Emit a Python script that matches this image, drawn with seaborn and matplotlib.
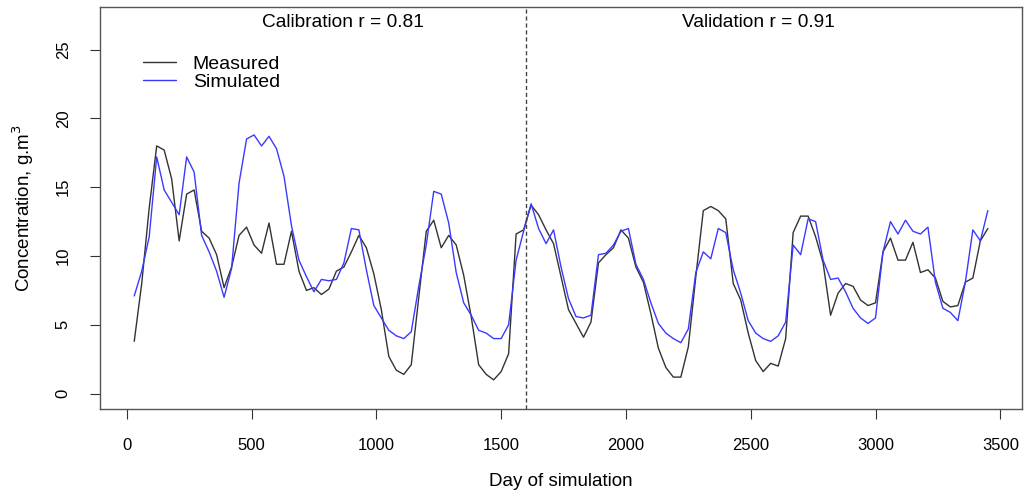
import numpy as np
import pandas as pd
import matplotlib
matplotlib.use("Agg")
import matplotlib.pyplot as plt
import seaborn as sns

# sampling days
days = [30, 60, 90, 120, 150, 180, 210, 240, 270, 300,
        330, 360, 390, 420, 450, 480, 510, 540, 570, 600,
        630, 660, 690, 720, 750, 780, 810, 840, 870, 900,
        930, 960, 990, 1020, 1050, 1080, 1110, 1140, 1170, 1200,
        1230, 1260, 1290, 1320, 1350, 1380, 1410, 1440, 1470, 1500,
        1530, 1560, 1590, 1620, 1650, 1680, 1710, 1740, 1770, 1800,
        1830, 1860, 1890, 1920, 1950, 1980, 2010, 2040, 2070, 2100,
        2130, 2160, 2190, 2220, 2250, 2280, 2310, 2340, 2370, 2400,
        2430, 2460, 2490, 2520, 2550, 2580, 2610, 2640, 2670, 2700,
        2730, 2760, 2790, 2820, 2850, 2880, 2910, 2940, 2970, 3000,
        3030, 3060, 3090, 3120, 3150, 3180, 3210, 3240, 3270, 3300,
        3330, 3360, 3390, 3420, 3450]

measured = [3.8, 8.0, 13.5, 18.0, 17.7, 15.6, 11.1, 14.5, 14.8, 11.8,
            11.3, 10.1, 7.7, 9.2, 11.5, 12.1, 10.8, 10.2, 12.4, 9.4,
            9.4, 11.8, 8.9, 7.5, 7.7, 7.2, 7.6, 8.9, 9.2, 10.3,
            11.5, 10.6, 8.7, 6.1, 2.7, 1.7, 1.4, 2.1, 7.0, 11.8,
            12.6, 10.6, 11.5, 10.8, 8.6, 5.6, 2.1, 1.4, 1.0, 1.6,
            2.9, 11.6, 11.9, 13.7, 13.0, 11.9, 10.9, 8.5, 6.1, 5.1,
            4.1, 5.2, 9.5, 10.1, 10.6, 11.9, 11.3, 9.2, 8.1, 5.8,
            3.3, 1.9, 1.2, 1.2, 3.4, 8.5, 13.3, 13.6, 13.3, 12.7,
            8.0, 6.8, 4.4, 2.4, 1.6, 2.2, 2.0, 4.0, 11.7, 12.9,
            12.9, 11.4, 9.5, 5.7, 7.3, 8.0, 7.8, 6.8, 6.4, 6.6,
            10.3, 11.3, 9.7, 9.7, 11.0, 8.8, 9.0, 8.4, 6.7, 6.3,
            6.4, 8.1, 8.4, 11.1, 12.0]

simulated = [7.1, 8.9, 11.4, 17.2, 14.8, 13.9, 13.0, 17.2, 16.1, 11.5,
             10.3, 8.9, 7.0, 9.1, 15.3, 18.5, 18.8, 18.0, 18.7, 17.8,
             15.8, 12.2, 9.7, 8.5, 7.4, 8.3, 8.2, 8.3, 9.5, 12.0,
             11.9, 9.0, 6.4, 5.5, 4.6, 4.2, 4.0, 4.5, 7.8, 10.8,
             14.7, 14.5, 12.4, 8.8, 6.6, 5.7, 4.6, 4.4, 4.0, 4.0,
             5.0, 9.7, 11.8, 13.8, 12.0, 10.9, 11.9, 9.2, 6.9, 5.6,
             5.5, 5.7, 10.1, 10.2, 10.8, 11.8, 12.0, 9.4, 8.3, 6.6,
             5.1, 4.4, 4.0, 3.7, 4.7, 8.8, 10.3, 9.8, 12.0, 11.7,
             9.0, 7.3, 5.3, 4.4, 4.0, 3.8, 4.2, 5.2, 10.8, 10.1,
             12.7, 12.5, 9.7, 8.3, 8.4, 7.4, 6.2, 5.5, 5.1, 5.5,
             10.3, 12.5, 11.6, 12.6, 11.8, 11.6, 12.1, 8.1, 6.2, 5.9,
             5.3, 8.1, 11.9, 11.1, 13.3]

split_day = 1600
x_ticks = [0, 500, 1000, 1500, 2000, 2500, 3000, 3500]
y_ticks = [0, 5, 10, 15, 20, 25]

df = pd.DataFrame({
    "day": days * 2,
    "value": measured + simulated,
    "series": ["Measured"] * len(days) + ["Simulated"] * len(days),
})

sns.set_style("white")
plt.rcParams["font.family"] = ["Liberation Sans", "DejaVu Sans"]
plt.rcParams["text.color"] = "black"
plt.rcParams["axes.labelcolor"] = "black"
plt.rcParams["xtick.color"] = "black"
plt.rcParams["ytick.color"] = "black"

fig = plt.figure(figsize=(10.25, 4.97), dpi=100)
ax = fig.add_axes([0.0976, 0.177, 0.8995, 0.809])

sns.lineplot(data=df, x="day", y="value", hue="series",
             palette={"Measured": "#333333", "Simulated": "#3a3aff"},
             linewidth=1.0, ax=ax, legend=False, sort=False)

ax.axvline(split_day, color="#444444", linestyle=(0, (3, 2)), linewidth=1.0)

ax.set_xlim(-107, 3587)
ax.set_ylim(-1.12, 28.1)
ax.set_xticks(x_ticks)
ax.set_yticks(y_ticks)
ax.set_xticklabels([str(t) for t in x_ticks], fontsize=12)
ax.set_yticklabels([str(t) for t in y_ticks], fontsize=12,
                   rotation=90, va="center")
ax.tick_params(axis="both", direction="out", length=7, width=0.8,
               color="#333333", bottom=True, left=True)
ax.tick_params(axis="x", pad=14)
ax.tick_params(axis="y", pad=14)

for s in ax.spines.values():
    s.set_visible(True)
    s.set_color("#555555")
    s.set_linewidth(1.0)

ax.set_xlabel("Day of simulation", fontsize=13.5, labelpad=14)
ax.set_ylabel("Concentration, g.m$^3$", fontsize=13.5, labelpad=14)

ax.text(0.263, 0.962, "Calibration r = 0.81", transform=ax.transAxes,
        ha="center", va="center", fontsize=13.8)
ax.text(0.714, 0.962, "Validation r = 0.91", transform=ax.transAxes,
        ha="center", va="center", fontsize=13.8)

# legend without frame
h1, = ax.plot([], [], color="#333333", linewidth=1.0)
h2, = ax.plot([], [], color="#3a3aff", linewidth=1.0)
ax.legend([h1, h2], ["Measured", "Simulated"], loc="upper left",
          bbox_to_anchor=(0.038, 0.90), frameon=False, fontsize=14,
          handlelength=1.7, handletextpad=0.87, labelspacing=0.05,
          borderaxespad=0)

fig.savefig("out.png", dpi=100)
